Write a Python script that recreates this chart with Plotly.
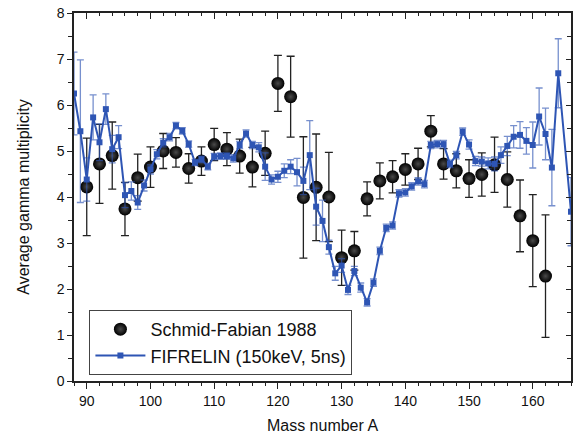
import plotly.graph_objects as go

# Schmid-Fabian 1988 (experimental)
sf_A = [90, 92, 94, 96, 98, 100, 102, 104, 106, 108, 110, 112, 114, 116, 118, 120, 122,
        124, 126, 128, 130, 132, 134, 136, 138, 140, 142, 144, 146, 148, 150, 152, 154,
        156, 158, 160, 162]
sf_M = [4.22, 4.72, 4.90, 3.74, 4.42, 4.65, 5.00, 4.97, 4.62, 4.78, 5.14, 5.04, 4.89,
        4.65, 4.95, 6.47, 6.18, 3.99, 4.21, 4.00, 2.68, 2.83, 3.96, 4.35, 4.44, 4.60,
        4.72, 5.43, 4.72, 4.57, 4.40, 4.49, 4.70, 4.38, 3.59, 3.05, 2.28]
sf_err = [1.06, 0.86, 0.73, 0.58, 0.51, 0.44, 0.38, 0.32, 0.32, 0.31, 0.35, 0.36, 0.37,
          0.43, 0.48, 0.61, 0.88, 1.32, 1.16, 0.97, 0.60, 0.42, 0.37, 0.39, 0.35, 0.34,
          0.34, 0.34, 0.33, 0.37, 0.41, 0.47, 0.60, 0.60, 0.78, 1.00, 1.33]

# FIFRELIN (150keV, 5ns)
fif_A = list(range(88, 165)) + [166]
fif_M = [6.25, 5.43, 4.38, 5.73, 5.19, 5.91, 5.04, 5.30, 4.04, 4.13, 3.88, 4.25, 4.60,
         4.93, 5.18, 5.30, 5.55, 5.44, 5.15, 4.75, 4.82, 4.66, 4.88, 4.89, 4.89, 4.84,
         5.13, 5.38, 5.13, 5.08, 4.66, 4.38, 4.44, 4.57, 4.66, 4.54, 4.35, 4.91, 3.79,
         3.48, 2.91, 2.34, 2.51, 1.98, 2.39, 2.03, 1.71, 2.14, 2.83, 3.33, 3.38, 4.08,
         4.10, 4.23, 4.34, 4.28, 5.13, 5.15, 5.15, 4.72, 4.91, 5.42, 5.14, 4.78, 4.77,
         4.73, 4.72, 4.91, 5.11, 5.31, 5.35, 5.22, 5.13, 5.75, 5.37, 4.64, 6.69, 3.68]
fif_err = [0.90, 1.55, 0.47, 0.49, 0.40, 0.33, 0.30, 0.25, 0.27, 0.20, 0.15, 0.12, 0.10,
           0.10, 0.09, 0.08, 0.07, 0.07, 0.07, 0.07, 0.07, 0.07, 0.07, 0.07, 0.07, 0.08,
           0.08, 0.08, 0.08, 0.10, 0.30, 0.10, 0.12, 0.15, 0.15, 0.30, 0.30, 0.75, 0.40,
           0.45, 0.15, 0.15, 0.15, 0.10, 0.10, 0.10, 0.08, 0.08, 0.08, 0.08, 0.08, 0.08,
           0.08, 0.08, 0.08, 0.08, 0.08, 0.08, 0.08, 0.08, 0.08, 0.08, 0.10, 0.10, 0.10,
           0.12, 0.15, 0.18, 0.21, 0.24, 0.29, 0.29, 0.50, 0.62, 0.56, 0.83, 0.75, 0.74]

BLUE = "#2E55B4"
AX = "#222222"
FONT = "Liberation Sans, Arial, sans-serif"

fig = go.Figure()
fig.add_trace(go.Scatter(
    x=sf_A, y=sf_M, mode="markers", name="Schmid-Fabian 1988",
    marker=dict(size=13, color="#000000", gradient=dict(type="radial", color="#4a4a4a"),
                line=dict(width=0)),
    error_y=dict(type="data", array=sf_err, visible=True, color="#222222",
                 thickness=1.3, width=4),
))
fig.add_trace(go.Scatter(
    x=fif_A, y=fif_M, mode="lines+markers", name="FIFRELIN (150keV, 5ns)",
    line=dict(color=BLUE, width=2),
    marker=dict(symbol="square", size=6, color=BLUE),
    error_y=dict(type="data", array=fif_err, visible=True, color="rgba(46,85,180,0.65)",
                 thickness=1.3, width=3.5),
))
# dummy trace so mirrored (inward-tick) top/right axes are drawn
fig.add_trace(go.Scatter(x=[None], y=[None], xaxis="x2", yaxis="y2",
                         showlegend=False, hoverinfo="skip"))

common_x = dict(range=[88, 166], tick0=0, dtick=10, showline=True, linecolor=AX,
                linewidth=1.5, showgrid=False, zeroline=False, tickcolor=AX,
                automargin=False)
common_y = dict(range=[0, 8], tick0=0, dtick=1, showline=True, linecolor=AX,
                linewidth=1.5, showgrid=False, zeroline=False, tickcolor=AX,
                automargin=False)

fig.update_layout(
    template="none",
    width=574, height=441,
    margin=dict(l=74, r=3, t=13, b=60),
    paper_bgcolor="white", plot_bgcolor="white",
    font=dict(family=FONT, size=14, color="#111111"),
    xaxis=dict(**common_x, ticks="outside", ticklen=6, tickwidth=1.3,
               minor=dict(dtick=2, ticks="outside", ticklen=3.5, tickcolor=AX, tickwidth=1.2),
               title=dict(text="Mass number A", font=dict(size=16), standoff=12),
               tickfont=dict(size=14)),
    yaxis=dict(**common_y, ticks="outside", ticklen=5, tickwidth=1.3,
               minor=dict(dtick=0.5, ticks="outside", ticklen=4, tickcolor=AX, tickwidth=1.2),
               title=dict(text="Average gamma multiplicity", font=dict(size=16), standoff=23),
               tickfont=dict(size=14)),
    xaxis2=dict(**common_x, overlaying="x", side="top", anchor="y2", ticks="inside",
                ticklen=6, tickwidth=1.3, showticklabels=False,
                minor=dict(dtick=2, ticks="inside", ticklen=3.5, tickcolor=AX, tickwidth=1.2)),
    yaxis2=dict(**common_y, overlaying="y", side="right", anchor="x2", ticks="inside",
                ticklen=5, tickwidth=1.3, showticklabels=False,
                minor=dict(dtick=0.5, ticks="inside", ticklen=4, tickcolor=AX, tickwidth=1.2)),
    legend=dict(x=0.031, y=0.193, xanchor="left", yanchor="top",
                bgcolor="white", bordercolor="#444444", borderwidth=1,
                font=dict(size=18, family=FONT), itemwidth=50, tracegroupgap=0),
    showlegend=True,
)

fig.write_html("out.html", config={"displayModeBar": False},
               post_script="document.body.style.margin='0';document.body.style.padding='0';")
